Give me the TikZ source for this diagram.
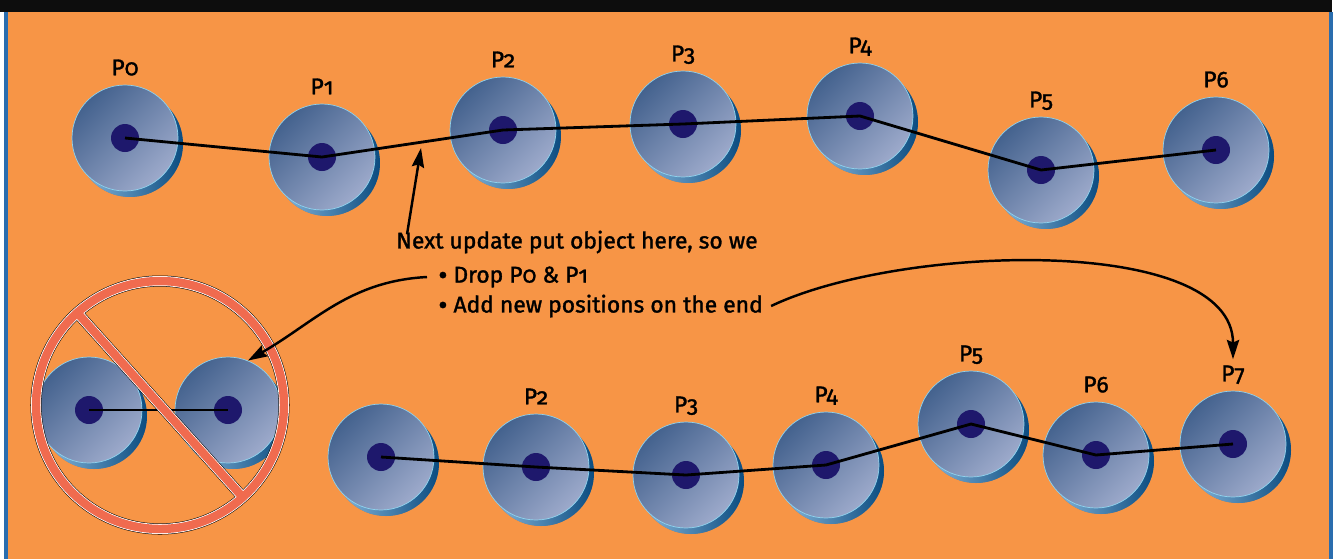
\documentclass[tikz,border=0pt]{standalone}
\usepackage{fontspec}
\setmainfont{Fira Sans}[Numbers=OldStyle, FakeBold=1.4]
\usepackage{xcolor}
\usepackage{tikz}
\usetikzlibrary{positioning, arrows.meta, shadows, calc}
\definecolor{bgorange}{HTML}{F79546}
\definecolor{frameblue}{HTML}{2A6DAE}
\definecolor{diskdark}{HTML}{44628E}
\definecolor{disklight}{HTML}{9DAACB}
\definecolor{rimdark}{HTML}{0B4C80}
\definecolor{rimlight}{HTML}{8DBCE0}
\definecolor{dotnavy}{HTML}{1E186C}
\definecolor{edgecyan}{HTML}{8FD3EE}
\definecolor{banred}{HTML}{F06B4F}
\tikzset{
  disk/.style={
    circle,
    minimum size=2.12cm,
    inner sep=0pt,
    draw=edgecyan,
    line width=0.4pt,
    top color=diskdark,
    bottom color=disklight,
    shading angle=45,
    drop shadow={shadow xshift=0.1cm, shadow yshift=-0.12cm, opacity=1,
      left color=rimlight, right color=rimdark},
    path picture={\fill[dotnavy] (path picture bounding box.center) circle (0.28cm);}
  },
  poslabel/.style={
    inner sep=0pt,
    text depth=0pt,
    font=\fontsize{13}{15}\selectfont
  },
  note/.style={
    inner sep=0pt,
    font=\fontsize{13}{15}\selectfont
  },
  track/.style={
    line width=1.6pt,
    black
  },
  pointer/.style={
    line width=1.4pt,
    -{Stealth[length=11pt, width=7pt, inset=1.5pt]}
  },
  banring/.style={
    line width=#1
  }
}
\newcommand{\bigdot}{\raisebox{-1.2pt}{\fontsize{16}{15}\selectfont\textbullet}}

\begin{document}
\begin{tikzpicture}[x=0.02cm, y=-0.02cm]
  \useasboundingbox (0,0) rectangle (1337,559);

  % --- frame ---
  \fill[white] (0,0) rectangle (1337,559);
  \fill[black!95] (0,0) rectangle (1332,12);
  \fill[bgorange] (5,12) rectangle (1331,559);
  \draw[frameblue, line width=1.8pt] (6,12) -- (6,559);
  \draw[frameblue, line width=1.8pt] (1331,12) -- (1331,559);

  % --- TOP ROW: CURRENT POSITIONS ---
  \node (a0) [disk] at (125,138) {};
  \node (a1) [disk] at (322,157) {};
  \node (a2) [disk] at (503,130) {};
  \node (a3) [disk] at (683,124) {};
  \node (a4) [disk] at (860,116) {};
  \node (a5) [disk] at (1041,170) {};
  \node (a6) [disk] at (1216,150) {};

  \node (la0) [poslabel, above=0.18cm of a0] {P0};
  \node (la1) [poslabel, above=0.18cm of a1] {P1};
  \node (la2) [poslabel, above=0.18cm of a2] {P2};
  \node (la3) [poslabel, above=0.18cm of a3] {P3};
  \node (la4) [poslabel, above=0.18cm of a4] {P4};
  \node (la5) [poslabel, above=0.18cm of a5] {P5};
  \node (la6) [poslabel, above=0.18cm of a6] {P6};

  \draw[track] (a0.center) -- (a1.center) -- (a2.center) -- (a3.center)
    -- (a4.center) -- (a5.center) -- (a6.center);

  % --- BOTTOM ROW: DROPPED AND NEW POSITIONS ---
  \node (x1) [disk] at (89,410) {};
  \node (x2) [disk] at (228,410) {};
  \draw[track] (x1.center) -- (x2.center);

  \node (b1) [disk] at (381,457) {};
  \node (b2) [disk] at (536,467) {};
  \node (b3) [disk] at (686,475) {};
  \node (b4) [disk] at (826,465) {};
  \node (b5) [disk] at (971,424) {};
  \node (b6) [disk] at (1096,455) {};
  \node (b7) [disk] at (1233,444) {};

  \node (lb2) [poslabel, above=0.18cm of b2] {P2};
  \node (lb3) [poslabel, above=0.18cm of b3] {P3};
  \node (lb4) [poslabel, above=0.18cm of b4] {P4};
  \node (lb5) [poslabel, above=0.18cm of b5] {P5};
  \node (lb6) [poslabel, above=0.18cm of b6] {P6};
  \node (lb7) [poslabel, above=0.18cm of b7] {P7};

  \draw[track] (b1.center) -- (b2.center) -- (b3.center) -- (b4.center)
    -- (b5.center) -- (b6.center) -- (b7.center);

  % No-entry sign over the dropped pair
  \draw[banring=6.3pt, black] (160,405) circle[radius=2.48cm]
    ($(160,405)+(131.9:2.48cm)$) -- ($(160,405)+(-48.1:2.48cm)$);
  \draw[banring=5.7pt, white] (160,405) circle[radius=2.48cm]
    ($(160,405)+(131.9:2.48cm)$) -- ($(160,405)+(-48.1:2.48cm)$);
  \draw[banring=4.8pt, banred] (160,405) circle[radius=2.48cm]
    ($(160,405)+(131.9:2.48cm)$) -- ($(160,405)+(-48.1:2.48cm)$);

  % --- Notes ---
  \node (next) [note] at (577,242) {Next update put object here, so we};
  \node (drop) [note, anchor=west] at (438,277) {\bigdot\ Drop P0 \& P1};
  \node (add) [note, anchor=west] at (438,306) {\bigdot\ Add new positions on the end};

  \coordinate (hit) at (421,148);
  \draw[pointer] ($(next.north west)+(11,4)$) -- (hit);
  \draw[pointer] ([xshift=-0.22cm]drop.west) to[out=183, in=30] (x2.68);
  \draw[pointer] ([xshift=0.16cm]add.east) .. controls +(130,-62) and +(0,-125) .. ([yshift=0.12cm]lb7.north);

\end{tikzpicture}
\end{document}
